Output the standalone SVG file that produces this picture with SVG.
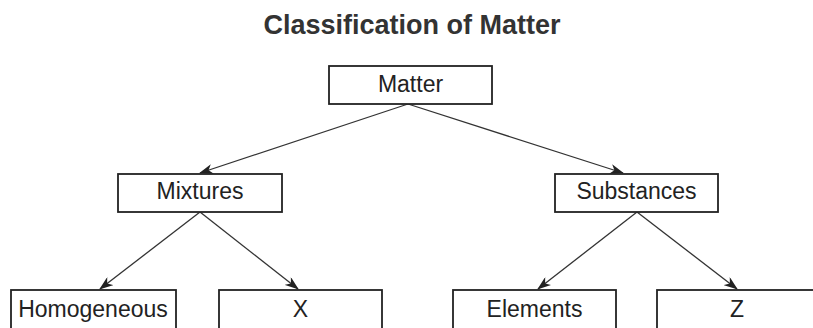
<svg xmlns="http://www.w3.org/2000/svg" width="813" height="328" viewBox="0 0 813 328">
<defs>
<style>
.box{fill:#fff;stroke:#222;stroke-width:1.8}
.lbl{font-family:"Liberation Sans",Arial,sans-serif;font-size:23px;fill:#222;text-anchor:middle}
.title{font-family:"Liberation Sans",Arial,sans-serif;font-size:27px;font-weight:bold;fill:#333;text-anchor:middle}
.edge{stroke:#333;stroke-width:1.3;fill:none;marker-end:url(#ah)}
</style>
<marker id="ah" viewBox="0 0 14 10" refX="13" refY="5" markerWidth="14" markerHeight="10" markerUnits="userSpaceOnUse" orient="auto">
<path d="M0,0 L14,5 L0,10 L4,5 Z" fill="#222"/>
</marker>
</defs>
<rect width="813" height="328" fill="#fff"/>
<text class="title" x="412" y="34">Classification of Matter</text>
<g id="connectors">
<line class="edge" x1="408" y1="104" x2="200" y2="173"/>
<line class="edge" x1="408" y1="104" x2="623" y2="173"/>
<line class="edge" x1="200" y1="212" x2="100" y2="289"/>
<line class="edge" x1="200" y1="212" x2="298" y2="289"/>
<line class="edge" x1="637" y1="212" x2="538" y2="289"/>
<line class="edge" x1="637" y1="212" x2="737" y2="289"/>
</g>
<g id="matter"><rect class="box" x="329" y="66" width="163" height="38"/><text class="lbl" x="410.5" y="92">Matter</text></g>
<g id="mixtures"><rect class="box" x="118" y="174" width="164" height="38"/><text class="lbl" x="200" y="199">Mixtures</text></g>
<g id="substances"><rect class="box" x="555" y="174" width="163" height="38"/><text class="lbl" x="636.5" y="199">Substances</text></g>
<g id="homogeneous"><rect class="box" x="11" y="290" width="165" height="42"/><text class="lbl" x="93" y="317">Homogeneous</text></g>
<g id="x"><rect class="box" x="219" y="290" width="163" height="42"/><text class="lbl" x="300.5" y="317">X</text></g>
<g id="elements"><rect class="box" x="453" y="290" width="163" height="42"/><text class="lbl" x="534.5" y="317">Elements</text></g>
<g id="z"><rect class="box" x="657" y="290" width="170" height="42"/><text class="lbl" x="737" y="317">Z</text></g>
</svg>
